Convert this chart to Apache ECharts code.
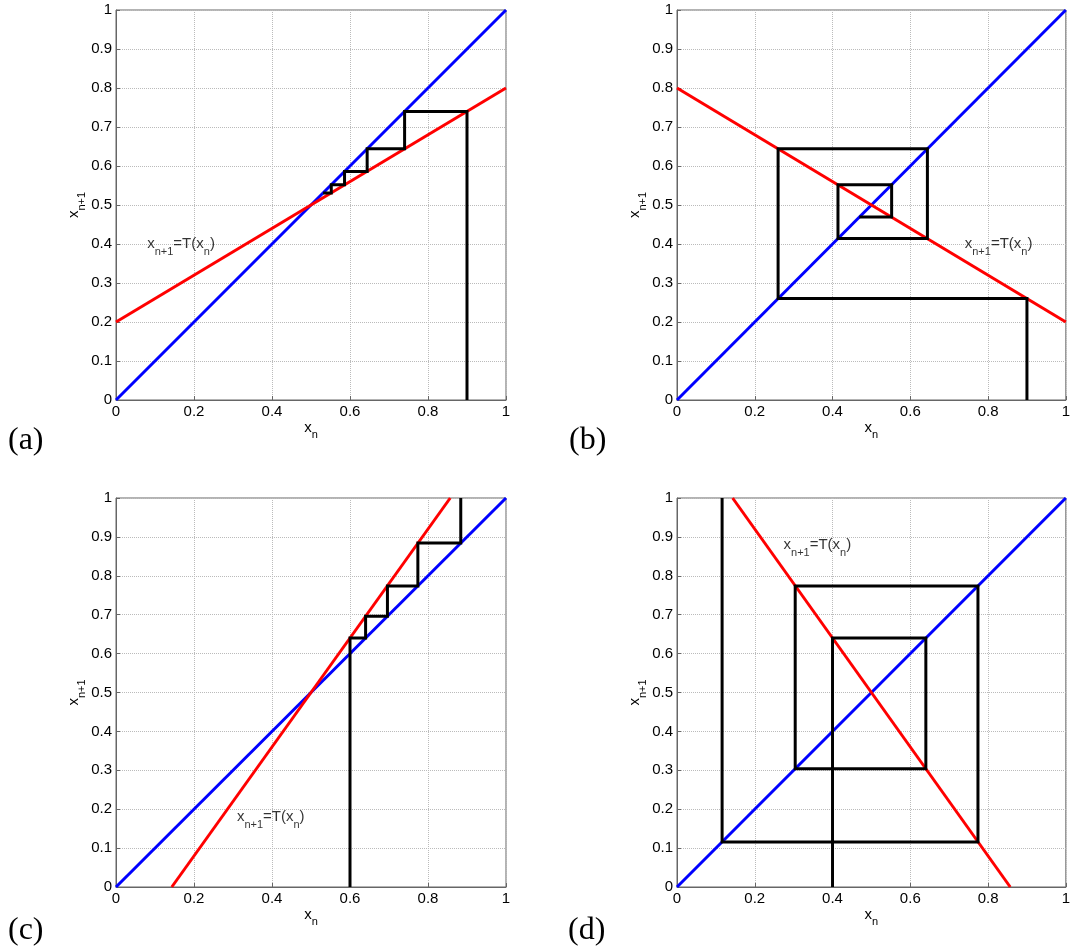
<!DOCTYPE html>
<html>
<head>
<meta charset="utf-8">
<script src="https://cdn.jsdelivr.net/npm/echarts@6/dist/echarts.min.js"></script>
<style>
  html, body { margin: 0; padding: 0; background: #fff; }
  #chart { width: 1073px; height: 951px; }
</style>
</head>
<body>
<div id="chart"></div>
<script>
// identity line x_{n+1} = x_n, same in every panel
const diagonal = [[0, 0], [1, 1]]

// (a) slope 0.6
const mapA = [[0, 0.2], [1, 0.8]]
const cobwebA = [[0.9, 0], [0.9, 0.74], [0.74, 0.74], [0.74, 0.644], [0.644, 0.644], [0.644, 0.586],
  [0.586, 0.586], [0.586, 0.552], [0.552, 0.552], [0.552, 0.531], [0.531, 0.531]]
const labelA = [0.08, 0.4]

// (b) slope -0.6
const mapB = [[0, 0.8], [1, 0.2]]
const cobwebB = [[0.9, 0], [0.9, 0.26], [0.26, 0.26], [0.26, 0.644], [0.644, 0.644], [0.644, 0.414],
  [0.414, 0.414], [0.414, 0.552], [0.552, 0.552], [0.552, 0.469], [0.469, 0.469]]
const labelB = [0.74, 0.4]

// (c) slope 1.4
const mapC = [[0.143, 0], [0.857, 1]]
const cobwebC = [[0.6, 0], [0.6, 0.64], [0.64, 0.64], [0.64, 0.696], [0.696, 0.696], [0.696, 0.774],
  [0.774, 0.774], [0.774, 0.884], [0.884, 0.884], [0.884, 1]]
const labelC = [0.31, 0.18]

// (d) slope -1.4
const mapD = [[0.143, 1], [0.857, 0]]
const cobwebD = [[0.4, 0], [0.4, 0.64], [0.64, 0.64], [0.64, 0.304], [0.304, 0.304], [0.304, 0.774],
  [0.774, 0.774], [0.774, 0.116], [0.116, 0.116], [0.116, 1]]
const labelD = [0.274, 0.88]

const panelNames = ['(a)', '(b)', '(c)', '(d)']

const font = 'Liberation Sans, Arial, sans-serif'
const subRich = {
  x: { fontSize: 15, color: '#000', fontFamily: font },
  s: { fontSize: 11, color: '#000', fontFamily: font, padding: [16, 0, 0, 0] }
}

const grids = [
  { left: 116, top: 10, width: 390, height: 390 },
  { left: 677, top: 10, width: 390, height: 390 },
  { left: 116, top: 498, width: 390, height: 389 },
  { left: 677, top: 498, width: 390, height: 389 }
]

function axisBase () {
  return {
    type: 'value',
    min: 0,
    max: 1,
    axisLine: { show: true, lineStyle: { color: '#666', width: 1 } },
    axisTick: { show: true, inside: true, length: 4, lineStyle: { color: '#666' } },
    splitLine: { show: true, lineStyle: { color: '#bbb', type: 'dotted', width: 1 } },
    axisLabel: { color: '#000', fontSize: 15, fontFamily: font, margin: 4 }
  }
}

const xAxes = grids.map((g, i) => Object.assign(axisBase(), {
  gridIndex: i,
  interval: 0.2,
  name: '{x|x}{s|n}',
  nameLocation: 'middle',
  nameGap: 13,
  nameTextStyle: { rich: subRich }
}))

const yAxes = grids.map((g, i) => Object.assign(axisBase(), {
  gridIndex: i,
  interval: 0.1,
  name: '{x|x}{s|n+1}',
  nameLocation: 'middle',
  nameGap: 29,
  nameRotate: 90,
  nameTextStyle: { rich: subRich }
}))

const maps = [mapA, mapB, mapC, mapD]
const cobwebs = [cobwebA, cobwebB, cobwebC, cobwebD]
const labels = [labelA, labelB, labelC, labelD]

const series = []
for (let i = 0; i < 4; i++) {
  series.push({
    type: 'line', xAxisIndex: i, yAxisIndex: i, data: diagonal,
    symbol: 'none', lineStyle: { color: '#0000ff', width: 3 }, z: 2
  })
  series.push({
    type: 'line', xAxisIndex: i, yAxisIndex: i, data: maps[i],
    symbol: 'none', lineStyle: { color: '#ff0000', width: 3 }, z: 3
  })
  series.push({
    type: 'line', xAxisIndex: i, yAxisIndex: i, data: cobwebs[i],
    symbol: 'none', lineStyle: { color: '#000', width: 3, join: 'miter' }, z: 4
  })
  series.push({
    type: 'scatter', xAxisIndex: i, yAxisIndex: i, data: [labels[i]],
    symbolSize: 0, z: 5,
    label: {
      show: true,
      position: 'right',
      distance: 0,
      formatter: '{x|x}{s|n+1}{x|=T(x}{s|n}{x|)}',
      rich: subRich
    }
  })
}

const panelPos = [[8, 425], [569, 425], [8, 915], [568, 915]]
const graphic = panelNames.map((t, i) => ({
  type: 'text',
  left: panelPos[i][0],
  top: panelPos[i][1],
  style: { text: t, fontSize: 32, fontFamily: 'Liberation Serif, Times New Roman, serif', fill: '#000' }
}))

const chart = echarts.init(document.getElementById('chart'))
chart.setOption({
  animation: false,
  backgroundColor: '#fff',
  grid: grids.map(g => Object.assign({ show: true, borderColor: '#666', borderWidth: 1, backgroundColor: 'transparent' }, g)),
  xAxis: xAxes,
  yAxis: yAxes,
  series: series,
  graphic: graphic
})
</script>
</body>
</html>
